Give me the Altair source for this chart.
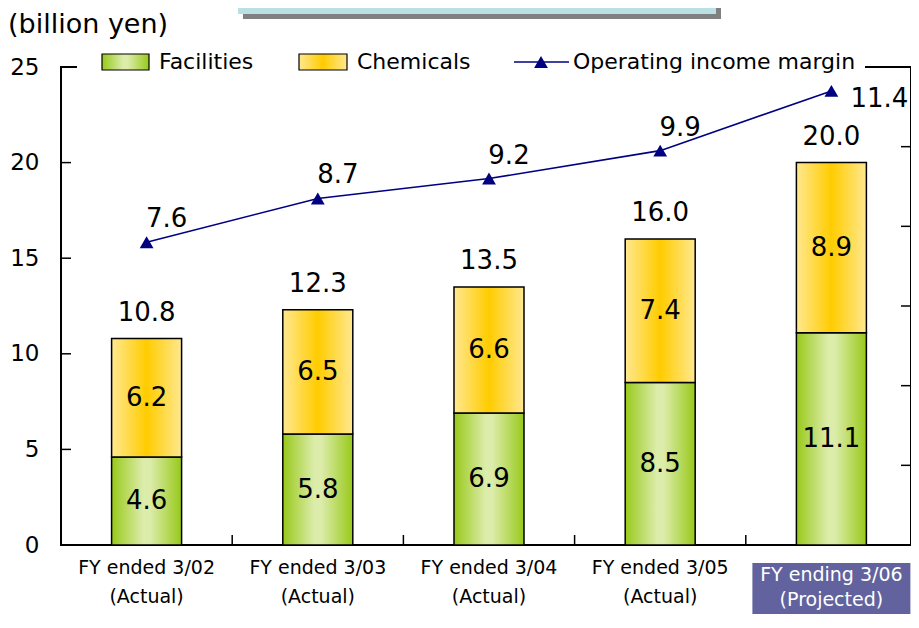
import altair as alt
import pandas as pd

# ---------------- data ----------------
cats = ["3/02", "3/03", "3/04", "3/05", "3/06"]
label_line1 = ["FY ended 3/02", "FY ended 3/03", "FY ended 3/04", "FY ended 3/05", "FY ending 3/06"]
label_line2 = ["(Actual)", "(Actual)", "(Actual)", "(Actual)", "(Projected)"]
facilities = [4.6, 5.8, 6.9, 8.5, 11.1]
chemicals = [6.2, 6.5, 6.6, 7.4, 8.9]
totals = [10.8, 12.3, 13.5, 16.0, 20.0]
margin = [7.6, 8.7, 9.2, 9.9, 11.4]
left_ticks = [5, 10, 15, 20, 25]
right_ticks = [2, 4, 6, 8, 10]

legend_items = ["Facilities", "Chemicals", "Operating income margin"]
unit_label = "(billion yen)"

df = pd.DataFrame({
    "cat": cats, "l1": label_line1, "l2": label_line2,
    "fac": facilities, "chem": chemicals, "tot": totals, "margin": margin,
})
df["i"] = range(len(cats))
df["proj"] = [False, False, False, False, True]

FONT = "DejaVu Sans"
green = alt.Gradient(gradient="linear", x1=0, x2=1, y1=0, y2=0, stops=[
    alt.GradientStop(color="#98C91A", offset=0),
    alt.GradientStop(color="#DCECAA", offset=0.45),
    alt.GradientStop(color="#DCECAA", offset=0.55),
    alt.GradientStop(color="#98C91A", offset=1)])
yellow = alt.Gradient(gradient="linear", x1=0, x2=1, y1=0, y2=0, stops=[
    alt.GradientStop(color="#FFE890", offset=0),
    alt.GradientStop(color="#FFCC00", offset=0.5),
    alt.GradientStop(color="#FFE890", offset=1)])

xsc = alt.Scale(domain=[-0.5, 4.465], nice=False, zero=False, padding=0)
xenc = alt.X("i:Q", scale=xsc, axis=None)
ysc = alt.Scale(domain=[0, 25], nice=False, zero=True)
msc = alt.Scale(domain=[0, 12], nice=False, zero=True)

base = alt.Chart(df)

# purple background for the projected label
purple = base.transform_filter("datum.proj").mark_bar(size=158, color="#62639E").encode(
    x=xenc, y=alt.value(496), y2=alt.value(560))

fac_bar = base.mark_bar(size=70, fill=green, stroke="black", strokeWidth=1.5).encode(
    x=xenc,
    y=alt.Y("fac:Q", scale=ysc,
            axis=alt.Axis(orient="left", values=[0, 5, 10, 15, 20, 25], ticks=False, domain=False,
                          grid=False, labelFont=FONT, labelFontSize=23, labelColor="black",
                          labelPadding=22, title=None)))
chem_bar = base.mark_bar(size=70, fill=yellow, stroke="black", strokeWidth=1.5).encode(
    x=xenc, y=alt.Y("fac:Q", scale=ysc, axis=None), y2="tot:Q")

fac_lab = base.transform_calculate(mid="datum.fac/2").mark_text(
    font=FONT, fontSize=26, color="black", baseline="middle").encode(
    x=xenc, y=alt.Y("mid:Q", scale=ysc, axis=None), text=alt.Text("fac:Q", format=".1f"))
chem_lab = base.transform_calculate(mid="datum.fac + (datum.tot - datum.fac)/2").mark_text(
    font=FONT, fontSize=26, color="black", baseline="middle").encode(
    x=xenc, y=alt.Y("mid:Q", scale=ysc, axis=None), text=alt.Text("chem:Q", format=".1f"))
tot_lab = base.mark_text(font=FONT, fontSize=26, color="black", baseline="middle", dy=-26).encode(
    x=xenc, y=alt.Y("tot:Q", scale=ysc, axis=None), text=alt.Text("tot:Q", format=".1f"))

line = base.mark_line(color="#000080", strokeWidth=1.6).encode(
    x=xenc, y=alt.Y("margin:Q", scale=msc, axis=None))
pts = base.mark_point(shape="triangle-up", size=190, filled=True, color="#000080", opacity=1).encode(
    x=xenc, y=alt.Y("margin:Q", scale=msc, axis=None))
m_lab = base.transform_filter("!datum.proj").mark_text(
    font=FONT, fontSize=26, color="black", baseline="middle", dx=20, dy=-23).encode(
    x=xenc, y=alt.Y("margin:Q", scale=msc, axis=None), text=alt.Text("margin:Q", format=".1f"))
m_lab_last = base.transform_filter("datum.proj").mark_text(
    font=FONT, fontSize=26, color="black", baseline="middle", dx=48, dy=8).encode(
    x=xenc, y=alt.Y("margin:Q", scale=msc, axis=None), text=alt.Text("margin:Q", format=".1f"))

# inward ticks
lt = alt.Chart(pd.DataFrame({"v": left_ticks})).mark_rule(color="black", strokeWidth=1.5).encode(
    x=alt.value(0), x2=alt.value(10), y=alt.Y("v:Q", scale=ysc, axis=None))
rt = alt.Chart(pd.DataFrame({"v": right_ticks})).mark_rule(color="black", strokeWidth=1.5).encode(
    x=alt.value(840), x2=alt.value(850), y=alt.Y("v:Q", scale=msc, axis=None))
bt = base.transform_filter("datum.i > 0").transform_calculate(b="datum.i - 0.5").mark_rule(
    color="black", strokeWidth=1.5).encode(
    x=alt.X("b:Q", scale=xsc, axis=None), y=alt.value(468), y2=alt.value(478))

# category labels
xl1 = base.transform_filter("!datum.proj").mark_text(font=FONT, fontSize=19, color="black",
                                                     baseline="middle").encode(
    x=xenc, y=alt.value(501), text="l1:N")
xl2 = base.transform_filter("!datum.proj").mark_text(font=FONT, fontSize=19, color="black",
                                                     baseline="middle").encode(
    x=xenc, y=alt.value(530), text="l2:N")
xp1 = base.transform_filter("datum.proj").mark_text(font=FONT, fontSize=19, color="white",
                                                    baseline="middle").encode(
    x=xenc, y=alt.value(508), text="l1:N")
xp2 = base.transform_filter("datum.proj").mark_text(font=FONT, fontSize=19, color="white",
                                                    baseline="middle").encode(
    x=xenc, y=alt.value(533), text="l2:N")

# manual legend
one = pd.DataFrame({"a": [0]})
leg_bg = alt.Chart(one).mark_rect(color="white").encode(
    x=alt.value(16), x2=alt.value(804), y=alt.value(-16), y2=alt.value(6))
sw1 = alt.Chart(one).mark_rect(fill=green, stroke="black", strokeWidth=1.2).encode(
    x=alt.value(41), x2=alt.value(88), y=alt.value(-13), y2=alt.value(3))
sw2 = alt.Chart(one).mark_rect(fill=yellow, stroke="black", strokeWidth=1.2).encode(
    x=alt.value(238), x2=alt.value(286), y=alt.value(-13), y2=alt.value(3))
lg_line = alt.Chart(one).mark_rule(color="#000080", strokeWidth=1.6).encode(
    x=alt.value(453), x2=alt.value(508), y=alt.value(-5))
lg_pt = alt.Chart(one).mark_point(shape="triangle-up", size=190, filled=True, color="#000080",
                                  opacity=1).encode(x=alt.value(480), y=alt.value(-5))
lg_t1 = alt.Chart(one).mark_text(text=legend_items[0], font=FONT, fontSize=22, align="left",
                                 baseline="middle", color="black").encode(
    x=alt.value(98), y=alt.value(-5))
lg_t2 = alt.Chart(one).mark_text(text=legend_items[1], font=FONT, fontSize=22, align="left",
                                 baseline="middle", color="black").encode(
    x=alt.value(296), y=alt.value(-5))
lg_t3 = alt.Chart(one).mark_text(text=legend_items[2], font=FONT, fontSize=22, align="left",
                                 baseline="middle", color="black").encode(
    x=alt.value(512), y=alt.value(-5))

# title box (cut off at top) and unit label
shadow = alt.Chart(one).mark_rect(color="#808080").encode(
    x=alt.value(182), x2=alt.value(660), y=alt.value(-70), y2=alt.value(-48))
tbox = alt.Chart(one).mark_rect(color="#B9E0E3").encode(
    x=alt.value(177), x2=alt.value(655), y=alt.value(-75), y2=alt.value(-53))
unit = alt.Chart(one).mark_text(text=unit_label, font=FONT, fontSize=27, align="left",
                                baseline="alphabetic", color="black").encode(
    x=alt.value(-53), y=alt.value(-34))

chart = alt.layer(
    purple, fac_bar, chem_bar, fac_lab, chem_lab, tot_lab, line, pts, m_lab, m_lab_last,
    lt, rt, bt, xl1, xl2, xp1, xp2,
    leg_bg, sw1, sw2, lg_line, lg_pt, lg_t1, lg_t2, lg_t3,
    shadow, tbox, unit,
).resolve_scale(y="independent").properties(
    width=850, height=478,
    autosize=alt.AutoSizeParams(type="none"),
    padding={"left": 53, "top": 59, "right": 0, "bottom": 69},
).configure_view(stroke="black", strokeWidth=2)

chart.save("out.html", embed_options={"renderer": "svg", "actions": False})
